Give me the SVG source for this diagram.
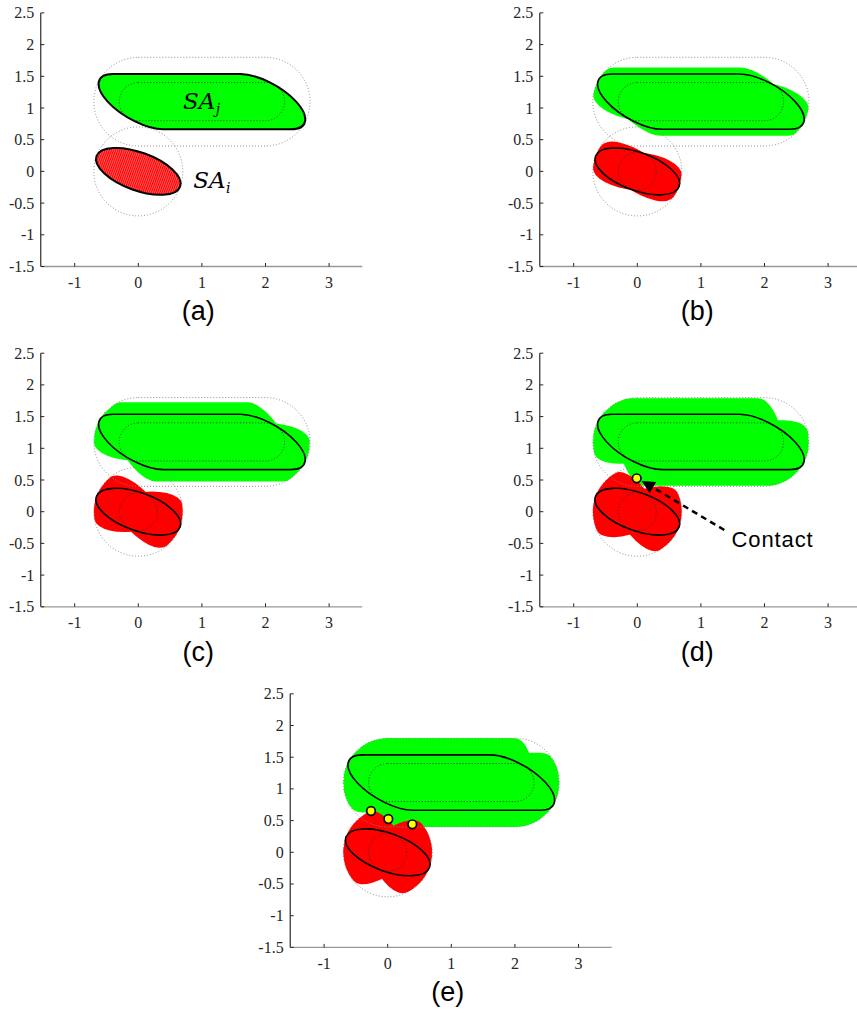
<svg xmlns="http://www.w3.org/2000/svg" width="857" height="1013" viewBox="0 0 857 1013">
<style>
.yl{font-family:"Liberation Serif","Times New Roman",serif;font-size:16px;fill:#262626;text-anchor:end}
.xl{font-family:"Liberation Serif","Times New Roman",serif;font-size:16px;fill:#262626;text-anchor:middle}
.pl{font-family:"Liberation Sans",Arial,sans-serif;font-size:27px;fill:#000;text-anchor:middle}
.sa{font-family:"DejaVu Serif","Liberation Serif",serif;font-style:italic;fill:#000}
.ct{font-family:"Liberation Sans",Arial,sans-serif;font-size:22px;fill:#000;letter-spacing:0.9px}
.do{fill:none;stroke:#8c8c8c;stroke-width:1;stroke-dasharray:1 2}
.di{fill:none;stroke:#333;stroke-width:1;stroke-dasharray:1 2}
.ol{fill:none;stroke:#000;stroke-width:1.6}
.gf{fill:#00ff00}
.rf{fill:#ff0000}
.cp{fill:#ffff00;stroke:#000;stroke-width:1.7}
</style>
<defs>
<pattern id="hatch" width="2" height="2" patternUnits="userSpaceOnUse"><rect width="2" height="2" fill="#ff0000"/><rect width="1" height="2" fill="#ff5a5a"/></pattern>
<g id="axes">
<path d="M-97.5,-158.5V95.1" fill="none" stroke="#000" stroke-width="1"/>
<path d="M-97.5,95.1H224" fill="none" stroke="#999" stroke-width="1.3"/>
<path d="M-97.5,-158.5h3.5M-97.5,-126.8h3.5M-97.5,-95.1h3.5M-97.5,-63.4h3.5M-97.5,-31.7h3.5M-97.5,0h3.5M-97.5,31.7h3.5M-97.5,63.4h3.5M-97.5,95.1h3.5M-63.6,95.1v-3.5M0,95.1v-3.5M63.6,95.1v-3.5M127.2,95.1v-3.5M190.8,95.1v-3.5" fill="none" stroke="#262626" stroke-width="1"/>
</g>
<g id="dotted">
<circle r="44.5" fill="none" stroke="#8c8c8c" stroke-width="1" stroke-dasharray="1 2"/>
<rect x="-44.5" y="-114.1" width="216.2" height="88.7" rx="44.5" fill="none" stroke="#8c8c8c" stroke-width="1" stroke-dasharray="1 2"/>
<circle r="19" fill="none" stroke="#333" stroke-width="1" stroke-dasharray="1 2"/>
<rect x="-19.1" y="-88.8" width="165.4" height="38.1" rx="19" fill="none" stroke="#333" stroke-width="1" stroke-dasharray="1 2"/>
</g>
<ellipse id="re" rx=".7" ry=".3" vector-effect="non-scaling-stroke"/>
<path id="g-90" vector-effect="non-scaling-stroke" d="M0,1.8L2,1.8A.7 .3 -90 0 0 2,.4L0,.4A.7 .3 -90 0 0 0,1.8Z"/>
<path id="g-85" vector-effect="non-scaling-stroke" d="M-.0498,1.7978L1.9502,1.7978A.7 .3 -85 0 0 2.0498,.4022L.0498,.4022A.7 .3 -85 0 0 -.0498,1.7978Z"/>
<path id="g-80" vector-effect="non-scaling-stroke" d="M-.0989,1.7913L1.9011,1.7913A.7 .3 -80 0 0 2.0989,.4087L.0989,.4087A.7 .3 -80 0 0 -.0989,1.7913Z"/>
<path id="g-75" vector-effect="non-scaling-stroke" d="M-.1469,1.7806L1.8531,1.7806A.7 .3 -75 0 0 2.1469,.4194L.1469,.4194A.7 .3 -75 0 0 -.1469,1.7806Z"/>
<path id="g-70" vector-effect="non-scaling-stroke" d="M-.1931,1.7657L1.8069,1.7657A.7 .3 -70 0 0 2.1931,.4343L.1931,.4343A.7 .3 -70 0 0 -.1931,1.7657Z"/>
<path id="g-65" vector-effect="non-scaling-stroke" d="M-.2368,1.747L1.7632,1.747A.7 .3 -65 0 0 2.2368,.453L.2368,.453A.7 .3 -65 0 0 -.2368,1.747Z"/>
<path id="g-60" vector-effect="non-scaling-stroke" d="M-.2773,1.7245L1.7227,1.7245A.7 .3 -60 0 0 2.2773,.4755L.2773,.4755A.7 .3 -60 0 0 -.2773,1.7245Z"/>
<path id="g-55" vector-effect="non-scaling-stroke" d="M-.3139,1.6987L1.6861,1.6987A.7 .3 -55 0 0 2.3139,.5013L.3139,.5013A.7 .3 -55 0 0 -.3139,1.6987Z"/>
<path id="g-50" vector-effect="non-scaling-stroke" d="M-.3457,1.6698L1.6543,1.6698A.7 .3 -50 0 0 2.3457,.5302L.3457,.5302A.7 .3 -50 0 0 -.3457,1.6698Z"/>
<path id="g-45" vector-effect="non-scaling-stroke" d="M-.3714,1.6385L1.6286,1.6385A.7 .3 -45 0 0 2.3714,.5615L.3714,.5615A.7 .3 -45 0 0 -.3714,1.6385Z"/>
<path id="g-40" vector-effect="non-scaling-stroke" d="M-.3898,1.6053L1.6102,1.6053A.7 .3 -40 0 0 2.3898,.5947L.3898,.5947A.7 .3 -40 0 0 -.3898,1.6053Z"/>
<path id="g-35" vector-effect="non-scaling-stroke" d="M-.3992,1.5707L1.6008,1.5707A.7 .3 -35 0 0 2.3992,.6293L.3992,.6293A.7 .3 -35 0 0 -.3992,1.5707Z"/>
<path id="g-30" vector-effect="non-scaling-stroke" d="M-.3974,1.5359L1.6026,1.5359A.7 .3 -30 0 0 2.3974,.6641L.3974,.6641A.7 .3 -30 0 0 -.3974,1.5359Z"/>
<path id="g-25" vector-effect="non-scaling-stroke" d="M-.3813,1.5018L1.6187,1.5018A.7 .3 -25 0 0 2.3813,.6982L.3813,.6982A.7 .3 -25 0 0 -.3813,1.5018Z"/>
<path id="g-20" vector-effect="non-scaling-stroke" d="M-.3476,1.4699L1.6524,1.4699A.7 .3 -20 0 0 2.3476,.7301L.3476,.7301A.7 .3 -20 0 0 -.3476,1.4699Z"/>
<path id="g-15" vector-effect="non-scaling-stroke" d="M-.2926,1.4418L1.7074,1.4418A.7 .3 -15 0 0 2.2926,.7582L.2926,.7582A.7 .3 -15 0 0 -.2926,1.4418Z"/>
<path id="g-10" vector-effect="non-scaling-stroke" d="M-.2141,1.4195L1.7859,1.4195A.7 .3 -10 0 0 2.2141,.7805L.2141,.7805A.7 .3 -10 0 0 -.2141,1.4195Z"/>
<path id="g-5" vector-effect="non-scaling-stroke" d="M-.1138,1.405L1.8862,1.405A.7 .3 -5 0 0 2.1138,.795L.1138,.795A.7 .3 -5 0 0 -.1138,1.405Z"/>
<path id="g0" vector-effect="non-scaling-stroke" d="M0,1.4L2,1.4A.7 .3 0 0 0 2,.8L0,.8A.7 .3 0 0 0 0,1.4Z"/>
<path id="g5" vector-effect="non-scaling-stroke" d="M.1138,1.405L2.1138,1.405A.7 .3 5 0 0 1.8862,.795L-.1138,.795A.7 .3 5 0 0 .1138,1.405Z"/>
<path id="g10" vector-effect="non-scaling-stroke" d="M.2141,1.4195L2.2141,1.4195A.7 .3 10 0 0 1.7859,.7805L-.2141,.7805A.7 .3 10 0 0 .2141,1.4195Z"/>
<path id="g15" vector-effect="non-scaling-stroke" d="M.2926,1.4418L2.2926,1.4418A.7 .3 15 0 0 1.7074,.7582L-.2926,.7582A.7 .3 15 0 0 .2926,1.4418Z"/>
<path id="g20" vector-effect="non-scaling-stroke" d="M.3476,1.4699L2.3476,1.4699A.7 .3 20 0 0 1.6524,.7301L-.3476,.7301A.7 .3 20 0 0 .3476,1.4699Z"/>
<path id="g25" vector-effect="non-scaling-stroke" d="M.3813,1.5018L2.3813,1.5018A.7 .3 25 0 0 1.6187,.6982L-.3813,.6982A.7 .3 25 0 0 .3813,1.5018Z"/>
<path id="g30" vector-effect="non-scaling-stroke" d="M.3974,1.5359L2.3974,1.5359A.7 .3 30 0 0 1.6026,.6641L-.3974,.6641A.7 .3 30 0 0 .3974,1.5359Z"/>
<path id="g35" vector-effect="non-scaling-stroke" d="M.3992,1.5707L2.3992,1.5707A.7 .3 35 0 0 1.6008,.6293L-.3992,.6293A.7 .3 35 0 0 .3992,1.5707Z"/>
</defs>
<rect width="857" height="1013" fill="#fff"/>

<!-- Panel (a) -->
<g id="panel-a" transform="translate(138.3,171.4)">
<use href="#axes"/>
<g class="yl"><text x="-104" y="-153">2.5</text><text x="-104" y="-121.3">2</text><text x="-104" y="-89.6">1.5</text><text x="-104" y="-57.9">1</text><text x="-104" y="-26.2">0.5</text><text x="-104" y="5.5">0</text><text x="-104" y="37.2">-0.5</text><text x="-104" y="68.9">-1</text><text x="-104" y="100.6">-1.5</text></g>
<g class="xl"><text x="-63.6" y="116.6">-1</text><text x="0" y="116.6">0</text><text x="63.6" y="116.6">1</text><text x="127.2" y="116.6">2</text><text x="190.8" y="116.6">3</text></g>
<text class="pl" x="60" y="149">(a)</text>
<g transform="scale(63.6,-63.4)"><use href="#g-30" class="gf"/></g>
<ellipse rx="44.5" ry="19" transform="rotate(20)" fill="url(#hatch)"/>
<circle r="44.5" class="do"/>
<rect x="-44.5" y="-114.1" width="216.2" height="88.7" rx="44.5" class="do"/>
<rect x="-19.1" y="-88.8" width="165.4" height="38.1" rx="19" class="di"/>
<circle r="19" fill="none" stroke="#c00000" stroke-width="1" stroke-dasharray="1 2" opacity="0.5"/>
<g transform="scale(63.6,-63.4)" fill="none" stroke="#000" stroke-width="2"><use href="#g-30"/></g>
<ellipse rx="44.5" ry="19" transform="rotate(20)" fill="none" stroke="#000" stroke-width="2"/>
<text class="sa" x="44.6" y="-62.1" font-size="23">SA</text>
<text class="sa" x="77.5" y="-57.5" font-size="14">j</text>
<text class="sa" x="55" y="16.9" font-size="23">SA</text>
<text class="sa" x="87.6" y="21.8" font-size="14">i</text>
</g>

<!-- Panel (b) -->
<g id="panel-b" transform="translate(637.3,171.4)">
<use href="#axes"/>
<g class="yl"><text x="-104" y="-153">2.5</text><text x="-104" y="-121.3">2</text><text x="-104" y="-89.6">1.5</text><text x="-104" y="-57.9">1</text><text x="-104" y="-26.2">0.5</text><text x="-104" y="5.5">0</text><text x="-104" y="37.2">-0.5</text><text x="-104" y="68.9">-1</text><text x="-104" y="100.6">-1.5</text></g>
<g class="xl"><text x="-63.6" y="116.6">-1</text><text x="0" y="116.6">0</text><text x="63.6" y="116.6">1</text><text x="127.2" y="116.6">2</text><text x="190.8" y="116.6">3</text></g>
<text class="pl" x="60" y="149">(b)</text>
<g transform="scale(63.6,-63.4)">
<g class="gf"><use href="#g-45"/><use href="#g-40"/><use href="#g-35"/><use href="#g-30"/><use href="#g-25"/><use href="#g-20"/><use href="#g-15"/><use href="#g-10"/></g>
<g class="rf"><use href="#re" transform="rotate(-35)"/><use href="#re" transform="rotate(-30)"/><use href="#re" transform="rotate(-25)"/><use href="#re" transform="rotate(-20)"/><use href="#re" transform="rotate(-15)"/><use href="#re" transform="rotate(-10)"/><use href="#re" transform="rotate(-5)"/></g>
</g>
<use href="#dotted"/>
<g transform="scale(63.6,-63.4)" class="ol"><use href="#g-30"/><use href="#re" transform="rotate(-20)"/></g>
</g>

<!-- Panel (c) -->
<g id="panel-c" transform="translate(138.3,511.7)">
<use href="#axes"/>
<g class="yl"><text x="-104" y="-153">2.5</text><text x="-104" y="-121.3">2</text><text x="-104" y="-89.6">1.5</text><text x="-104" y="-57.9">1</text><text x="-104" y="-26.2">0.5</text><text x="-104" y="5.5">0</text><text x="-104" y="37.2">-0.5</text><text x="-104" y="68.9">-1</text><text x="-104" y="100.6">-1.5</text></g>
<g class="xl"><text x="-63.6" y="116.6">-1</text><text x="0" y="116.6">0</text><text x="63.6" y="116.6">1</text><text x="127.2" y="116.6">2</text><text x="190.8" y="116.6">3</text></g>
<text class="pl" x="60" y="149">(c)</text>
<g transform="scale(63.6,-63.4)">
<g class="gf"><use href="#g-60"/><use href="#g-55"/><use href="#g-50"/><use href="#g-45"/><use href="#g-40"/><use href="#g-35"/><use href="#g-30"/><use href="#g-25"/><use href="#g-20"/><use href="#g-15"/><use href="#g-10"/><use href="#g-5"/><use href="#g0"/></g>
<g class="rf"><use href="#re" transform="rotate(-50)"/><use href="#re" transform="rotate(-45)"/><use href="#re" transform="rotate(-40)"/><use href="#re" transform="rotate(-35)"/><use href="#re" transform="rotate(-30)"/><use href="#re" transform="rotate(-25)"/><use href="#re" transform="rotate(-20)"/><use href="#re" transform="rotate(-15)"/><use href="#re" transform="rotate(-10)"/><use href="#re" transform="rotate(-5)"/><use href="#re"/><use href="#re" transform="rotate(5)"/><use href="#re" transform="rotate(10)"/></g>
</g>
<use href="#dotted"/>
<g transform="scale(63.6,-63.4)" class="ol"><use href="#g-30"/><use href="#re" transform="rotate(-20)"/></g>
</g>

<!-- Panel (d) -->
<g id="panel-d" transform="translate(637.3,511.7)">
<use href="#axes"/>
<g class="yl"><text x="-104" y="-153">2.5</text><text x="-104" y="-121.3">2</text><text x="-104" y="-89.6">1.5</text><text x="-104" y="-57.9">1</text><text x="-104" y="-26.2">0.5</text><text x="-104" y="5.5">0</text><text x="-104" y="37.2">-0.5</text><text x="-104" y="68.9">-1</text><text x="-104" y="100.6">-1.5</text></g>
<g class="xl"><text x="-63.6" y="116.6">-1</text><text x="0" y="116.6">0</text><text x="63.6" y="116.6">1</text><text x="127.2" y="116.6">2</text><text x="190.8" y="116.6">3</text></g>
<text class="pl" x="60" y="149">(d)</text>
<g transform="scale(63.6,-63.4)">
<g class="gf"><use href="#g-80"/><use href="#g-75"/><use href="#g-70"/><use href="#g-65"/><use href="#g-60"/><use href="#g-55"/><use href="#g-50"/><use href="#g-45"/><use href="#g-40"/><use href="#g-35"/><use href="#g-30"/><use href="#g-25"/><use href="#g-20"/><use href="#g-15"/><use href="#g-10"/><use href="#g-5"/><use href="#g0"/><use href="#g5"/><use href="#g10"/><use href="#g15"/></g>
<g class="rf"><use href="#re" transform="rotate(-60)"/><use href="#re" transform="rotate(-55)"/><use href="#re" transform="rotate(-50)"/><use href="#re" transform="rotate(-45)"/><use href="#re" transform="rotate(-40)"/><use href="#re" transform="rotate(-35)"/><use href="#re" transform="rotate(-30)"/><use href="#re" transform="rotate(-25)"/><use href="#re" transform="rotate(-20)"/><use href="#re" transform="rotate(-15)"/><use href="#re" transform="rotate(-10)"/><use href="#re" transform="rotate(-5)"/><use href="#re"/><use href="#re" transform="rotate(5)"/><use href="#re" transform="rotate(10)"/><use href="#re" transform="rotate(15)"/><use href="#re" transform="rotate(20)"/><use href="#re" transform="rotate(25)"/></g>
</g>
<use href="#dotted"/>
<g transform="scale(63.6,-63.4)" class="ol"><use href="#g-30"/><use href="#re" transform="rotate(-20)"/></g>
</g>

<!-- Panel (e) -->
<g id="panel-e" transform="translate(387.7,852.3)">
<use href="#axes"/>
<g class="yl"><text x="-104" y="-153">2.5</text><text x="-104" y="-121.3">2</text><text x="-104" y="-89.6">1.5</text><text x="-104" y="-57.9">1</text><text x="-104" y="-26.2">0.5</text><text x="-104" y="5.5">0</text><text x="-104" y="37.2">-0.5</text><text x="-104" y="68.9">-1</text><text x="-104" y="100.6">-1.5</text></g>
<g class="xl"><text x="-63.6" y="116.6">-1</text><text x="0" y="116.6">0</text><text x="63.6" y="116.6">1</text><text x="127.2" y="116.6">2</text><text x="190.8" y="116.6">3</text></g>
<text class="pl" x="60" y="149">(e)</text>
<g transform="scale(63.6,-63.4)">
<g class="gf"><use href="#g-90"/><use href="#g-85"/><use href="#g-80"/><use href="#g-75"/><use href="#g-70"/><use href="#g-65"/><use href="#g-60"/><use href="#g-55"/><use href="#g-50"/><use href="#g-45"/><use href="#g-40"/><use href="#g-35"/><use href="#g-30"/><use href="#g-25"/><use href="#g-20"/><use href="#g-15"/><use href="#g-10"/><use href="#g-5"/><use href="#g0"/><use href="#g5"/><use href="#g10"/><use href="#g15"/><use href="#g20"/><use href="#g25"/><use href="#g30"/><use href="#g35"/></g>
<g class="rf"><use href="#re" transform="rotate(-65)"/><use href="#re" transform="rotate(-60)"/><use href="#re" transform="rotate(-55)"/><use href="#re" transform="rotate(-50)"/><use href="#re" transform="rotate(-45)"/><use href="#re" transform="rotate(-40)"/><use href="#re" transform="rotate(-35)"/><use href="#re" transform="rotate(-30)"/><use href="#re" transform="rotate(-25)"/><use href="#re" transform="rotate(-20)"/><use href="#re" transform="rotate(-15)"/><use href="#re" transform="rotate(-10)"/><use href="#re" transform="rotate(-5)"/><use href="#re"/><use href="#re" transform="rotate(5)"/><use href="#re" transform="rotate(10)"/><use href="#re" transform="rotate(15)"/><use href="#re" transform="rotate(20)"/><use href="#re" transform="rotate(25)"/><use href="#re" transform="rotate(30)"/><use href="#re" transform="rotate(35)"/><use href="#re" transform="rotate(40)"/></g>
</g>
<use href="#dotted"/>
<g transform="scale(63.6,-63.4)" class="ol"><use href="#g-30"/><use href="#re" transform="rotate(-20)"/></g>
<g id="contacts-e"><circle class="cp" cx="-16.7" cy="-41.3" r="4.3"/><circle class="cp" cx="0.6" cy="-33.3" r="4.3"/><circle class="cp" cx="24.6" cy="-28" r="4.3"/></g>
</g>

<!-- Connector: Contact arrow in (d) -->
<g id="connectors">
<path d="M724.3,530L653,487.6" fill="none" stroke="#000" stroke-width="2.5" stroke-dasharray="6 4.5"/>
<polygon points="641.7,481 656.2,482 649.6,493.2" fill="#000"/>
</g>
<g id="contact-d">
<circle class="cp" cx="636.7" cy="478.3" r="4.3"/>
<text class="ct" x="731.5" y="547">Contact</text>
</g>
</svg>
